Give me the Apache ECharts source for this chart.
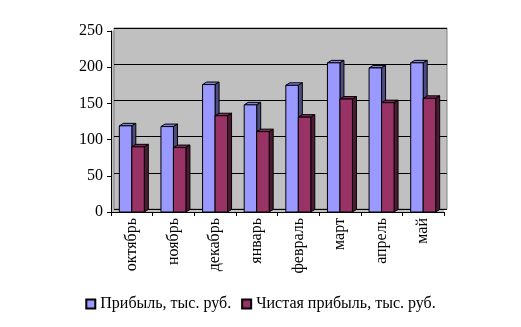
<!DOCTYPE html>
<html>
<head>
<meta charset="utf-8">
<script src="https://cdn.jsdelivr.net/npm/echarts@6/dist/echarts.min.js"></script>
<style>html,body{margin:0;padding:0;background:#fff;}#c{width:521px;height:327px;}</style>
</head>
<body>
<div id="c"></div>
<script>
const categories = ['октябрь','ноябрь','декабрь','январь','февраль','март','апрель','май'];
const profit = [119, 118, 176, 148, 175, 206, 199, 206];
const netProfit = [90, 89, 133, 111, 131, 156, 151, 157];
const yTicks = [0, 50, 100, 150, 200, 250];
const seriesNames = ['Прибыль, тыс. руб.', 'Чистая прибыль, тыс. руб.'];

const FONT = 'Liberation Serif';
const palettes = [
  {front:'#9999FF', top:'#8080D9', side:'#4D4D80'},
  {front:'#993366', top:'#802B55', side:'#4D1A33'}
];

function makeRender(sideIdx) {
  const c = palettes[sideIdx];
  return function (params, api) {
    const idx = api.value(0), v = api.value(1);
    const top = api.coord([idx, v]);
    const base = api.coord([idx, 0]);
    const cw = api.size([1, 0])[0];
    const bw = cw * 0.3;
    const x0 = sideIdx === 0 ? top[0] - bw : top[0];
    const x1 = x0 + bw;
    const dx = 4, dy = 2.5;
    const st = {stroke:'#000', lineWidth:1};
    return {type:'group', children:[
      {type:'polygon', shape:{points:[[x0,top[1]],[x0+dx,top[1]-dy],[x1+dx,top[1]-dy],[x1,top[1]]]}, style:Object.assign({fill:c.top}, st)},
      {type:'polygon', shape:{points:[[x1,top[1]],[x1+dx,top[1]-dy],[x1+dx,base[1]-dy],[x1,base[1]]]}, style:Object.assign({fill:c.side}, st)},
      {type:'rect', shape:{x:x0, y:top[1], width:bw, height:base[1]-top[1]}, style:Object.assign({fill:c.front}, st)}
    ]};
  };
}

const chart = echarts.init(document.getElementById('c'), null, {renderer:'canvas'});
const yMin = yTicks[0], yMax = yTicks[yTicks.length-1], yStep = yTicks[1]-yTicks[0];
chart.setOption({
  animation:false,
  backgroundColor:'#fff',
  textStyle:{fontFamily:FONT},
  grid:[
    {left:111, top:31, width:333, height:181, show:true, backgroundColor:'#C0C0C0', borderWidth:0},
    {left:114, top:28, width:333, height:181, show:true, backgroundColor:'#C0C0C0', borderColor:'#808080', borderWidth:1}
  ],
  xAxis:[
    {type:'category', gridIndex:0, data:categories, boundaryGap:true,
     axisLine:{lineStyle:{color:'#000'}}, axisTick:{show:true, length:4, lineStyle:{color:'#000'}},
     axisLabel:{rotate:90, margin:6, color:'#000', fontFamily:FONT, fontSize:16, interval:0}},
    {type:'category', gridIndex:1, data:categories, show:false}
  ],
  yAxis:[
    {type:'value', gridIndex:0, min:yMin, max:yMax, interval:yStep,
     axisLine:{show:true, lineStyle:{color:'#000'}}, axisTick:{show:true, length:4, lineStyle:{color:'#000'}},
     splitLine:{show:false},
     axisLabel:{color:'#000', fontFamily:FONT, fontSize:16, margin:8}},
    {type:'value', gridIndex:1, min:yMin, max:yMax, interval:yStep,
     axisLine:{show:false}, axisTick:{show:false}, axisLabel:{show:false},
     splitLine:{show:true, lineStyle:{color:'#000', width:1}}}
  ],
  legend:{
    bottom:10, left:'center', icon:'rect', itemWidth:9, itemHeight:9, itemGap:10,
    textStyle:{color:'#000', fontFamily:FONT, fontSize:16},
    data:seriesNames
  },
  series:[
    {name:seriesNames[0], type:'custom', xAxisIndex:0, yAxisIndex:0,
     itemStyle:{color:palettes[0].front, borderColor:'#000', borderWidth:1},
     renderItem:makeRender(0), encode:{x:0, y:1},
     data:profit.map((v,i)=>[i,v])},
    {name:seriesNames[1], type:'custom', xAxisIndex:0, yAxisIndex:0,
     itemStyle:{color:palettes[1].front, borderColor:'#000', borderWidth:1},
     renderItem:makeRender(1), encode:{x:0, y:1},
     data:netProfit.map((v,i)=>[i,v])}
  ]
});
</script>
</body>
</html>
